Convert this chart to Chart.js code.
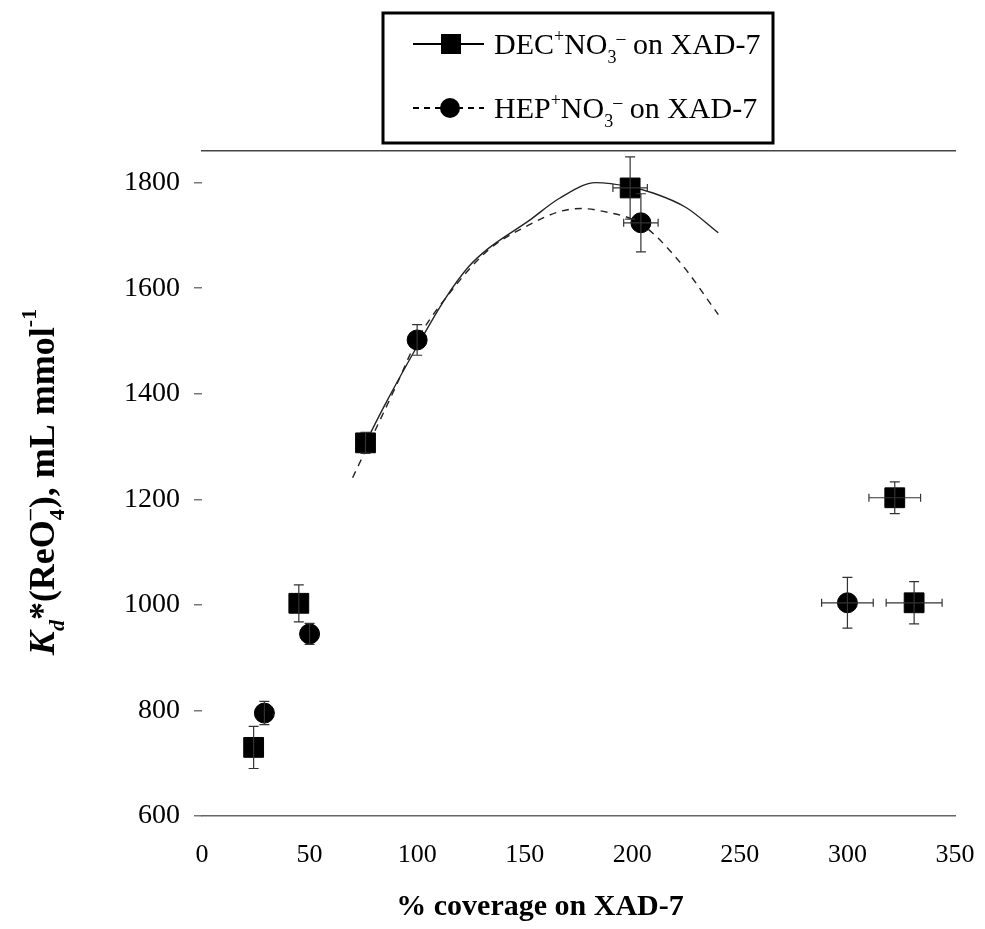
<!DOCTYPE html>
<html>
<head>
<meta charset="utf-8">
<script src="https://cdn.jsdelivr.net/npm/chart.js@4.4.1/dist/chart.umd.min.js"></script>
<style>
    html, body { margin: 0; padding: 0; background: #fff; }
    #wrap { width: 985px; height: 929px; position: relative; }
</style>
</head>
<body>
<div id="wrap"><canvas id="kdChart"></canvas></div>
<script>
// Datos
const decX = [24, 45, 76, 199, 322, 331];
const decY = [730, 1003, 1307, 1790, 1203, 1004];
const decYErr = [40, 35, 20, 59, 30, 40];
const decXErr = [0, 0, 0, 8, 12, 13];

const hepX = [29, 50, 100, 204, 300];
const hepY = [795, 945, 1502, 1724, 1004];
const hepYErr = [22, 20, 29, 55, 48];
const hepXErr = [0, 0, 0, 8, 12];

// Curvas de ajuste (trazadas a mano sobre la figura)
const decFitX = [76, 85, 100, 113, 124, 133, 152, 166, 183, 199, 210, 225, 240];
const decFitY = [1307, 1379, 1490, 1580, 1641, 1675, 1728, 1770, 1800, 1792, 1780, 1753, 1705];
const hepFitX = [70, 90, 100, 113, 133, 152, 166, 176, 186, 204, 222, 240];
const hepFitY = [1241, 1413, 1502, 1580, 1672, 1720, 1745, 1751, 1746, 1722, 1650, 1550];

const xTicks = [0, 50, 100, 150, 200, 250, 300, 350];
const yTicks = [600, 800, 1000, 1200, 1400, 1600, 1800];

const serif = '"Liberation Serif", "DejaVu Serif", serif';

const toPoints = (xs, ys) => xs.map((x, i) => ({ x: x, y: ys[i] }));

// Dibuja texto con sub/superíndices, segmento a segmento
function drawRich(ctx, parts, x, y) {
    let cx = x;
    parts.forEach(p => {
        ctx.font = p.font;
        ctx.fillText(p.t, cx, y + (p.dy || 0));
        if (!p.stack) cx += ctx.measureText(p.t).width + (p.gap || 0);
    });
    return cx;
}
function richWidth(ctx, parts) {
    let w = 0;
    parts.forEach(p => {
        ctx.font = p.font;
        if (!p.stack) w += ctx.measureText(p.t).width + (p.gap || 0);
    });
    return w;
}

// Barras de error
const errorBars = {
    id: 'errorBars',
    afterDatasetsDraw(chart) {
        const ctx = chart.ctx;
        const xs = chart.scales.x, ys = chart.scales.y;
        const sets = [
            { px: decX, py: decY, ex: decXErr, ey: decYErr },
            { px: hepX, py: hepY, ex: hepXErr, ey: hepYErr }
        ];
        ctx.save();
        ctx.strokeStyle = '#333';
        ctx.lineWidth = 1.2;
        sets.forEach(s => {
            s.px.forEach((v, i) => {
                const cx = xs.getPixelForValue(v);
                const cy = ys.getPixelForValue(s.py[i]);
                if (s.ey[i]) {
                    const t = ys.getPixelForValue(s.py[i] + s.ey[i]);
                    const b = ys.getPixelForValue(s.py[i] - s.ey[i]);
                    ctx.beginPath();
                    ctx.moveTo(cx, t); ctx.lineTo(cx, b);
                    ctx.moveTo(cx - 5, t); ctx.lineTo(cx + 5, t);
                    ctx.moveTo(cx - 5, b); ctx.lineTo(cx + 5, b);
                    ctx.stroke();
                }
                if (s.ex[i]) {
                    const l = xs.getPixelForValue(v - s.ex[i]);
                    const r = xs.getPixelForValue(v + s.ex[i]);
                    ctx.beginPath();
                    ctx.moveTo(l, cy); ctx.lineTo(r, cy);
                    ctx.moveTo(l, cy - 4); ctx.lineTo(l, cy + 4);
                    ctx.moveTo(r, cy - 4); ctx.lineTo(r, cy + 4);
                    ctx.stroke();
                }
            });
        });
        ctx.restore();
    }
};

// Títulos de ejes y leyenda con subíndices
const labelsAndLegend = {
    id: 'labelsAndLegend',
    afterDraw(chart) {
        const ctx = chart.ctx;
        ctx.save();
        ctx.fillStyle = '#000';
        ctx.textBaseline = 'alphabetic';

        // eje X
        ctx.font = 'bold 30px ' + serif;
        ctx.textAlign = 'center';
        ctx.fillText('% coverage on XAD-7', 540, 915);

        // eje Y (rotado)
        ctx.textAlign = 'left';
        const big = 'bold 36px ' + serif;
        const bigIt = 'italic bold 36px ' + serif;
        const sm = 'bold 22px ' + serif;
        const smIt = 'italic bold 22px ' + serif;
        const yParts = [
            { t: 'K', font: bigIt },
            { t: 'd', font: smIt, dy: 10 },
            { t: '*(ReO', font: big },
            { t: '\u2013', font: sm, dy: -18, stack: true },
            { t: '4', font: sm, dy: 10, gap: 1 },
            { t: '), mL mmol', font: big },
            { t: '-1', font: sm, dy: -18 }
        ];
        ctx.translate(54, 482);
        ctx.rotate(-Math.PI / 2);
        const w = richWidth(ctx, yParts);
        drawRich(ctx, yParts, -w / 2, 0);
        ctx.setTransform(1, 0, 0, 1, 0, 0);

        // leyenda
        ctx.lineWidth = 3;
        ctx.strokeStyle = '#000';
        ctx.strokeRect(383, 13, 390, 130);
        const rows = [
            { name: 'DEC', y: 44, dash: [], square: true },
            { name: 'HEP', y: 108, dash: [6, 5], square: false }
        ];
        rows.forEach(r => {
            ctx.lineWidth = 1.8;
            ctx.setLineDash(r.dash);
            ctx.beginPath();
            ctx.moveTo(413, r.y); ctx.lineTo(484, r.y);
            ctx.stroke();
            ctx.setLineDash([]);
            ctx.beginPath();
            if (r.square) ctx.rect(441, r.y - 10, 20, 20);
            else ctx.arc(450, r.y, 10, 0, Math.PI * 2);
            ctx.fill();
            const f = '30px ' + serif, s = '18px ' + serif;
            drawRich(ctx, [
                { t: r.name, font: f },
                { t: '+', font: s, dy: -12 },
                { t: 'NO', font: f },
                { t: '3', font: s, dy: 9 },
                { t: '\u2013', font: s, dy: -10 },
                { t: ' on XAD-7', font: f }
            ], 494, r.y + 10);
        });
        ctx.restore();
    }
};

const noSidePadding = (scale) => { scale.paddingLeft = 0; scale.paddingRight = 0; };

const ctx = document.getElementById('kdChart').getContext('2d');
new Chart(ctx, {
    type: 'scatter',
    data: {
        datasets: [
            {
                label: 'DEC',
                data: toPoints(decX, decY),
                pointStyle: 'rect',
                pointRadius: 14,
                backgroundColor: '#000',
                borderColor: '#000',
                showLine: false
            },
            {
                label: 'HEP',
                data: toPoints(hepX, hepY),
                pointStyle: 'circle',
                pointRadius: 10,
                backgroundColor: '#000',
                borderColor: '#000',
                showLine: false
            },
            {
                label: 'DEC ajuste',
                data: toPoints(decFitX, decFitY),
                showLine: true,
                pointRadius: 0,
                borderColor: '#222',
                borderWidth: 1.4,
                cubicInterpolationMode: 'monotone'
            },
            {
                label: 'HEP ajuste',
                data: toPoints(hepFitX, hepFitY),
                showLine: true,
                pointRadius: 0,
                borderColor: '#222',
                borderWidth: 1.4,
                borderDash: [7, 6],
                cubicInterpolationMode: 'monotone'
            }
        ]
    },
    options: {
        responsive: true,
        maintainAspectRatio: false,
        animation: false,
        layout: { padding: { left: 62, right: 30, top: 151, bottom: 0 } },
        plugins: {
            legend: { display: false },
            tooltip: { enabled: false }
        },
        scales: {
            x: {
                type: 'linear',
                min: 0,
                max: 350,
                afterBuildTicks: (scale) => { scale.ticks = xTicks.map(v => ({ value: v })); },
                afterFit: (scale) => { scale.height = 113; noSidePadding(scale); },
                grid: { display: false },
                border: { display: true, color: '#666', width: 1.5 },
                ticks: {
                    padding: 16,
                    color: '#000',
                    font: { family: serif, size: 26 },
                    callback: (v) => String(v)
                }
            },
            x2: {
                type: 'linear',
                position: 'top',
                min: 0,
                max: 350,
                afterFit: (scale) => { scale.height = 0; noSidePadding(scale); },
                grid: { display: false },
                border: { display: true, color: '#444', width: 1.5 },
                ticks: { display: false }
            },
            y: {
                type: 'linear',
                min: 600,
                max: 1860,
                afterBuildTicks: (scale) => { scale.ticks = yTicks.map(v => ({ value: v })); },
                afterFit: (scale) => { scale.width = 140; },
                border: { display: false },
                grid: {
                    drawOnChartArea: false,
                    tickLength: 8,
                    color: '#777',
                    lineWidth: 1.5
                },
                ticks: {
                    padding: 14,
                    color: '#000',
                    font: { family: serif, size: 28 },
                    callback: (v) => String(v)
                }
            }
        }
    },
    plugins: [errorBars, labelsAndLegend]
});
</script>
</body>
</html>
